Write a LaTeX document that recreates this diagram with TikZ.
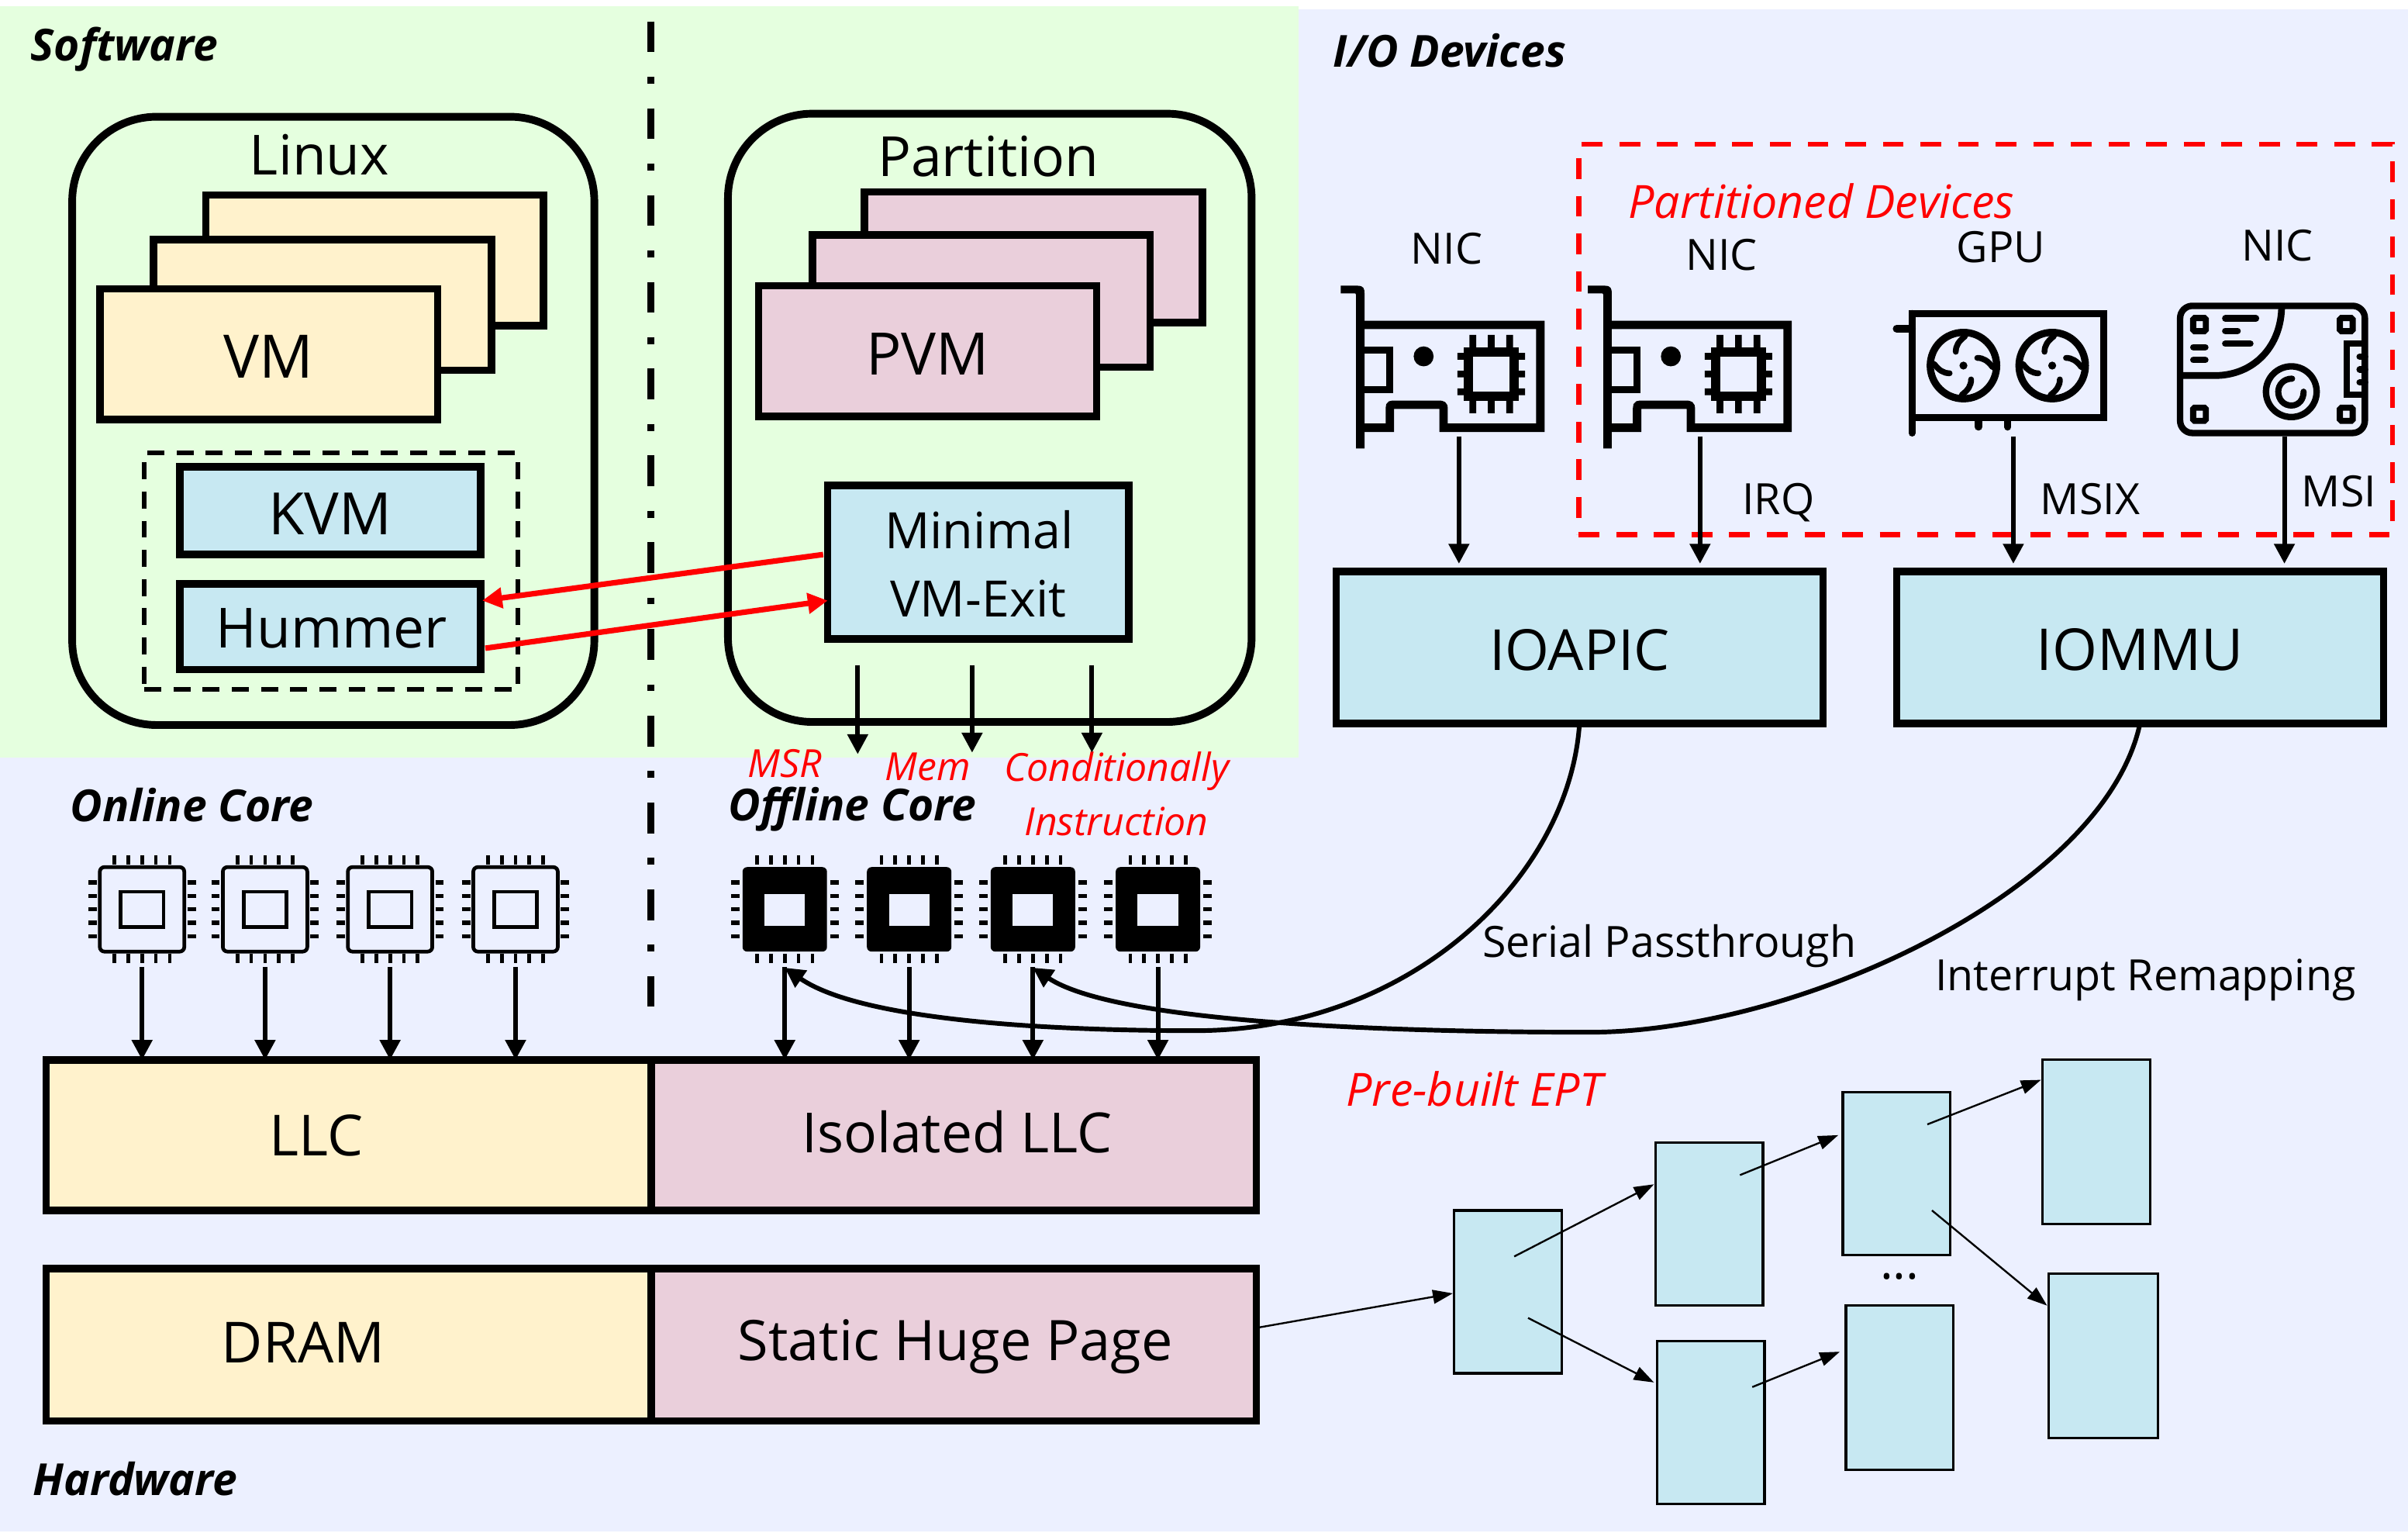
\documentclass[tikz,border=0pt]{standalone}
\usepackage{fontspec}
\setmainfont{Open Sans}
\usetikzlibrary{arrows.meta,calc}
\def\U{0.01981cm}
\definecolor{bgblue}{HTML}{ECF0FF}
\definecolor{bggreen}{HTML}{E5FFDF}
\definecolor{vmyellow}{HTML}{FFF2CC}
\definecolor{pvmpink}{HTML}{EACFDB}
\definecolor{hwblue}{HTML}{C7E8F2}
\newcommand{\fsz}[1]{\fontsize{#1}{#1}\selectfont}
\tikzset{
  sz/.style 2 args={minimum width=#1*\U,minimum height=#2*\U},
  box/.style={draw=black,line width=4.8*\U,inner sep=0pt,outer sep=0pt,text=black},
  thin box/.style={draw=black,line width=1.6*\U,fill=hwblue,inner sep=0pt,outer sep=0pt},
  round box/.style={draw=black,line width=5*\U,rounded corners=55*\U,inner sep=0pt,outer sep=0pt},
  big/.style={font=\fsz{20.3},inner sep=0pt},
  small/.style={font=\fsz{15.8},inner sep=0pt},
  title/.style={font=\bfseries\itshape\fsz{16.2},inner sep=0pt},
  redtext/.style={font=\itshape\fsz{16.8},text=red,inner sep=0pt},
  redsmall/.style={font=\itshape\fsz{14.2},text=red,inner sep=0pt},
  arr/.style={draw=black,line width=3*\U,-{Triangle[length=13*\U,width=13*\U]}},
  thinarr/.style={draw=black,line width=1.2*\U,-{Triangle[length=13*\U,width=9*\U]}},
  redarr/.style={draw=red,line width=3.6*\U,-{Triangle[length=13*\U,width=13*\U]}},
  core body/.style={minimum width=55*\U,minimum height=55*\U,inner sep=0pt,outer sep=0pt,rounded corners=3*\U},
  pins/.pic={
    \foreach \k in {-18,-9,0,9,18}{
      \draw[line width=2.4*\U] (\k,-35)--(\k,-29) (\k,29)--(\k,35);
    }
    \foreach \k in {-17.5,-8.75,0,8.75,17.5}{
      \draw[line width=2.8*\U] (-35,\k)--(-29.5,\k) (29.5,\k)--(35,\k);
    }
  },
  nic/.pic={
    % bracket
    \fill (-17,-23) -- (-6,-23) .. controls (-2,-23) and (-1.5,-21) .. (-1.5,-18) -- (-1.5,83) -- (-7,83) -- (-7,-17) .. controls (-7,-18) and (-7.5,-18) .. (-8,-18) -- (-17,-18) -- cycle;
    % card
    \draw[line width=5.5*\U,line join=miter] (-3,2.5) -- (113,2.5) -- (113,69.5) -- (50,69.5) -- (50,57) .. controls (50,55) and (49,54.5) .. (47,54.5) -- (17,54.5) .. controls (15,54.5) and (15,56) .. (15,57) -- (15,69.5) -- (-3,69.5);
    \draw[line width=4.5*\U] (-3,19) -- (15,19) -- (15,44.5) -- (-3,44.5);
    \fill (37,23) circle[radius=6.5*\U];
    % chip
    \draw[line width=6*\U] (66,20) rectangle (96,49);
    \foreach \k in {69,81,93}{\fill (\k-2.2,9) rectangle (\k+2.2,20) (\k-2.2,49) rectangle (\k+2.2,60);}
    \foreach \k in {23,34.5,46}{\fill (59,\k-2.2) rectangle (66,\k+2.2) (96,\k-2.2) rectangle (103,\k+2.2);}
  },
  fan/.pic={
    \draw[line width=4.7*\U] (0,0) circle[radius=21.6*\U];
    \fill (0,0) circle[radius=2.6*\U];
    \foreach \a in {0,90,180,270}{
      \draw[rotate=\a,line width=3.8*\U,line cap=round] (1,-19) .. controls (-3,-16) and (-5,-13) .. (-5,-9);
    }
  },
  screw/.style={draw=black,line width=4*\U,rounded corners=1*\U},
  pill/.style={line width=4.2*\U,line cap=round}
}
\begin{document}
\begin{tikzpicture}[x=\U,y=-\U]
\useasboundingbox (0,0) rectangle (1568,1002.1);
\fill[white] (0,0) rectangle (1568,1002.1);
\fill[bgblue] (0,6) rectangle (1568,997);
\fill[bggreen] (0,4) rectangle (845.5,493);

% Software panels
\node[round box,sz={340}{396}] (linux) at (217,274) {};
\node[round box,sz={341}{396}] (partition) at (644.5,272) {};
\node[big] (linuxlabel) at (208,101) {Linux};
\node[big] (partitionlabel) at (643.5,102) {Partition};

\node[box,fill=vmyellow,sz={220}{85}] (vmc) at (244,169.5) {};
\node[box,fill=vmyellow,sz={220}{85}] (vmb) at (210,198.5) {};
\node[box,fill=vmyellow,sz={220}{85}] (vma) at (175,230.5) {};
\node[font=\fsz{22},inner sep=0pt] (vmlabel) at (175,232) {VM};
\node[box,fill=pvmpink,sz={220}{85}] (pvmc) at (673,167.5) {};
\node[box,fill=pvmpink,sz={220}{86}] (pvmb) at (639,196) {};
\node[box,fill=pvmpink,sz={220}{85}] (pvma) at (604,228.5) {};
\node[font=\fsz{21.5},inner sep=0pt] (pvmlabel) at (604,230.5) {PVM};

\node[draw=black,line width=3*\U,dash pattern=on 11*\U off 8*\U,sz={243}{154},inner sep=0pt] (kvmgroup) at (215.5,372) {};
\node[box,fill=hwblue,sz={196}{57}] (kvm) at (215,332.5) {};
\node[font=\fsz{21.4},inner sep=0pt] (kvmlabel) at (215,334.5) {KVM};
\node[box,fill=hwblue,sz={196}{56}] (hummer) at (215,408) {};
\node[big] (hummerlabel) at (216,409) {Hummer};
\node[box,fill=hwblue,sz={196}{100}] (minimal) at (637,366) {};
\node[font=\fsz{18.4},inner sep=0pt] (minimala) at (637.5,345) {Minimal};
\node[font=\fsz{18.4},inner sep=0pt] (minimalb) at (637,390) {VM-Exit};

% Separator
\coordinate (septop) at (424,14);
\coordinate (sepbot) at (424,662);
\draw[line width=4.5*\U,dash pattern=on 20*\U off 16*\U on 4.5*\U off 16*\U] (septop) -- (sepbot);

% Titles
\node[title] (software) at (81,32) {Software};
\node[title] (iodevices) at (944,33) {I/O Devices};
\node[title] (hardware) at (88,963) {Hardware};
\node[title] (onlinecore) at (125,524) {Online Core};
\node[title] (offlinecore) at (555,527) {Offline Core};

% Red labels
\node[redsmall] (msr) at (511,497) {MSR};
\node[redsmall] (mem) at (604,499) {Mem};
\node[redsmall] (cond) at (727,502) {Conditionally};
\node[redsmall] (instr) at (727,535) {Instruction};
\node[redtext] (prebuilt) at (960,709) {Pre-built EPT};
\node[redtext] (partdev) at (1186,131) {Partitioned Devices};

% Red dashed region
\node[draw=red,line width=3.2*\U,dash pattern=on 13.5*\U off 11*\U,sz={530}{254},inner sep=0pt] (partregion) at (1293,221) {};

% Device labels
\node[small] (nica) at (942,162) {NIC};
\node[small] (nicb) at (1121,166) {NIC};
\node[small] (gpu) at (1303,161) {GPU};
\node[small] (nicc) at (1483,160) {NIC};
\node[small] (irq) at (1158,327) {IRQ};
\node[small] (msix) at (1361,325) {MSIX};
\node[small] (msi) at (1523,320) {MSI};

% Device icons
\pic at (890,209) {nic};
\pic at (1051,209) {nic};
% GPU
\draw[line width=4.5*\U] (1245,204.3) rectangle (1370,272);
\draw[line width=4.4*\U,line cap=round] (1245,204) -- (1245,282);
\draw[line width=5*\U,line cap=round] (1235,214) -- (1245,214);
\draw[line width=4.6*\U,line cap=round] (1288.3,272) -- (1288.3,278) (1307.4,272) -- (1307.4,278);
\pic at (1278.5,238) {fan};
\pic at (1336.3,238) {fan};
% HDD
\draw[line width=4.2*\U,rounded corners=8*\U] (1419.6,199.1) rectangle (1539.9,281.9);
\draw[line width=4.4*\U] (1485.7,199) .. controls (1485.7,225) and (1468,244.5) .. (1442,244.5) -- (1420,244.5);
\draw[line width=4.2*\U] (1492,255) circle[radius=16.5*\U];
\begin{scope}[shift={(1492,255)}]
\draw[line width=4*\U,line cap=round] (0.5,-8.5) .. controls (-5,-8.5) and (-8.5,-4.5) .. (-8.5,0) .. controls (-8.5,5) and (-5,9) .. (0,9) .. controls (5,9) and (8,5) .. (8,0);
\end{scope}
\foreach \px/\py in {1432.2/211.3,1527.8/211.3,1432.2/269.7,1527.8/269.7}{
  \draw[screw] (\px-4.15,\py-4.3) rectangle (\px+4.15,\py+4.3);
}
\draw[pill] (1449,207.3) -- (1469,207.3) (1449,215.4) -- (1457,215.4) (1449,223.8) -- (1465.3,223.8);
\draw[pill] (1428.2,226) -- (1436,226) (1428.2,234.4) -- (1436,234.4);
\draw[line width=4.2*\U] (1540,223.8) -- (1528,223.8) -- (1528,257) -- (1540,257);
\foreach \k in {232.2,240.6,249}{\draw[line width=4.2*\U,line cap=round] (1536.5,\k) -- (1540,\k);}

% I/O controllers
\node[box,fill=hwblue,sz={317}{99}] (ioapic) at (1028.5,421.5) {};
\node[font=\fsz{20.8},inner sep=0pt] (ioapiclabel) at (1028.5,423) {IOAPIC};
\node[box,fill=hwblue,sz={317}{99}] (iommu) at (1393.5,421.5) {};
\node[font=\fsz{21.2},inner sep=0pt] (iommulabel) at (1393.5,423) {IOMMU};

\coordinate (srca) at (950,284);
\coordinate (srcb) at (1107,284);
\coordinate (srcc) at (1311,284);
\coordinate (srcd) at (1487.5,284);
\draw[arr,shorten >=5*\U] (srca) -- (srca |- ioapic.north);
\draw[arr,shorten >=5*\U] (srcb) -- (srcb |- ioapic.north);
\draw[arr,shorten >=5*\U] (srcc) -- (srcc |- iommu.north);
\draw[arr,shorten >=5*\U] (srcd) -- (srcd |- iommu.north);

% Memory
\node[box,fill=vmyellow,sz={394}{98}] (llc) at (227,739) {};
\node[font=\fsz{20.8},inner sep=0pt] (llclabel) at (206,739) {LLC};
\node[box,fill=pvmpink,sz={394}{98}] (isolated) at (621,739) {};
\node[big] (isolatedlabel) at (623,737) {Isolated LLC};
\node[box,fill=vmyellow,sz={394}{99}] (dram) at (227,875.5) {};
\node[font=\fsz{20.8},inner sep=0pt] (dramlabel) at (197.5,874) {DRAM};
\node[box,fill=pvmpink,sz={394}{99}] (static) at (621,875.5) {};
\node[font=\fsz{20.5},inner sep=0pt] (staticlabel) at (622,876.5) {Static Huge Page};

% Cores
\foreach \n/\cx in {1/92.5,2/172.6,3/254,4/335.7}{
  \node[core body,draw=black,fill=bgblue,line width=2.4*\U] (on\n) at (\cx,592) {};
  \pic at (\cx,592) {pins};
  \draw[line width=2.4*\U] (\cx-14,580.5) rectangle (\cx+14,603.5);
  \draw[arr,shorten <=10*\U] (on\n.south) -- (on\n |- llc.north);
}
\foreach \n/\cx in {1/511,2/592,3/672.6,4/754}{
  \node[core body,fill=black] (off\n) at (\cx,592) {};
  \pic at (\cx,592) {pins};
  \fill[bgblue] (\cx-13.2,582) rectangle (\cx+13.2,602.5);
  \draw[arr,shorten <=10*\U] (off\n.south) -- (off\n |- isolated.north);
}

% Mid-labels
\node[small] (serial) at (1087,616) {Serial Passthrough};
\node[small] (remap) at (1397,638) {Interrupt Remapping};

% Long curves
\coordinate (offa) at (511,630);
\coordinate (offb) at (672.5,630);
\draw[arr] (ioapic.south) .. controls (1022,570) and (920,671) .. (778,671) .. controls (680,671) and (560,664) .. (offa);
\draw[arr] (iommu.south) .. controls (1370,580) and (1170,672) .. (1035,672) .. controls (930,672) and (730,668) .. (offb);

% Minimal exits
\coordinate (exa) at (558.5,433);
\coordinate (exb) at (633,433);
\coordinate (exc) at (711,433);
\coordinate (exae) at (558.5,491);
\coordinate (exbe) at (633,490);
\coordinate (exce) at (711,490);
\draw[arr] (exa) -- (exae);
\draw[arr] (exb) -- (exbe);
\draw[arr] (exc) -- (exce);

% Red arrows
\draw[redarr] ([yshift=5*\U,xshift=-3*\U]minimal.west) -- ([yshift=17*\U,xshift=1*\U]hummer.east);
\draw[redarr] ([yshift=-14*\U,xshift=3*\U]hummer.east) -- ([yshift=-25*\U]minimal.west);

% EPT
\node[thin box,sz={70}{106}] (epta) at (982,841) {};
\node[thin box,sz={70}{106}] (eptb) at (1113,797) {};
\node[thin box,sz={70}{106}] (eptc) at (1114,926) {};
\node[thin box,sz={70}{106}] (eptd) at (1235,764) {};
\node[thin box,sz={70}{107}] (epte) at (1237,903.5) {};
\node[thin box,sz={70}{107}] (eptf) at (1365,743.5) {};
\node[thin box,sz={71}{107}] (eptg) at (1369.5,882.5) {};
\node[font=\fsz{18},inner sep=0pt] (dots) at (1237,831) {...};

\coordinate (astart) at (986,818);
\coordinate (bstart) at (995,858);
\coordinate (cstart) at (1133,765);
\coordinate (dstart) at (1141,903);
\coordinate (estart) at (1255,732);
\coordinate (fstart) at (1258,788);
\coordinate (aend) at (946,842);
\coordinate (b1end) at (1077,771);
\coordinate (c1end) at (1077,900);
\coordinate (d1end) at (1197,739);
\coordinate (e1end) at (1198,880);
\coordinate (f1end) at (1329,703);
\coordinate (g1end) at (1333,850);
\draw[thinarr] (static.east) ++(0,-11) -- (aend);
\draw[thinarr] (astart) -- (b1end);
\draw[thinarr] (bstart) -- (c1end);
\draw[thinarr] (cstart) -- (d1end);
\draw[thinarr] (dstart) -- (e1end);
\draw[thinarr] (estart) -- (f1end);
\draw[thinarr] (fstart) -- (g1end);
\end{tikzpicture}
\end{document}
